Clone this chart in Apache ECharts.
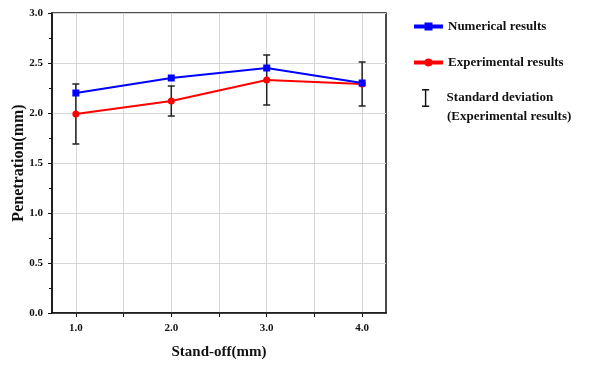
<!DOCTYPE html>
<html>
<head>
<meta charset="utf-8">
<script src="https://cdn.jsdelivr.net/npm/echarts@6/dist/echarts.min.js"></script>
<style>
  html, body { margin: 0; padding: 0; background: #fff; }
  #chart { width: 592px; height: 365px; }
</style>
</head>
<body>
<div id="chart"></div>
<script>
const standOff = [1.0, 2.0, 3.0, 4.0];
const numerical = [2.20, 2.35, 2.45, 2.30];
const experimental = [1.99, 2.12, 2.33, 2.29];
const errLow = [1.69, 1.97, 2.08, 2.07];
const errHigh = [2.29, 2.27, 2.58, 2.51];
const xTickLabels = [1, 2, 3, 4];

const font = 'Liberation Serif';
const legendText = { fontFamily: font, fontWeight: 'bold', fontSize: 13, color: '#111' };

const chart = echarts.init(document.getElementById('chart'));

const errData = standOff.map((x, i) => [x, errLow[i], errHigh[i]]);

chart.setOption({
  animation: false,
  backgroundColor: '#fff',
  textStyle: { fontFamily: font },
  grid: {
    left: 52, right: 206, top: 13, bottom: 52,
    outerBoundsMode: 'none',
    containLabel: false,
    show: true, borderColor: '#111', borderWidth: 1.5
  },
  legend: [
    {
      orient: 'vertical',
      left: 407,
      top: 15,
      itemWidth: 29,
      itemHeight: 10,
      itemGap: 23,
      textStyle: legendText,
      data: [
        { name: 'Numerical results', lineStyle: { width: 4 } },
        { name: 'Experimental results', lineStyle: { width: 4 } }
      ]
    },
    {
      orient: 'vertical',
      left: 417,
      top: 84,
      itemWidth: 32,
      itemHeight: 18,
      textStyle: legendText,
      data: [
        { name: 'Standard deviation',
          icon: 'path://M0,0H8V1.6H4.8V18.4H8V20H0V18.4H3.2V1.6H0Z',
          itemStyle: { color: '#111' } }
      ]
    }
  ],
  graphic: [
    {
      type: 'text',
      left: 447,
      top: 110,
      style: {
        text: '(Experimental results)', fill: '#111',
        fontFamily: font, fontWeight: 'bold', fontSize: 13
      }
    }
  ],
  xAxis: {
    type: 'value',
    min: 0.75,
    max: 4.25,
    name: 'Stand-off(mm)',
    nameLocation: 'middle',
    nameGap: 32,
    nameTextStyle: { fontFamily: font, fontWeight: 'bold', fontSize: 15, color: '#111' },
    axisLine: { lineStyle: { color: '#111', width: 1.5 } },
    axisTick: { show: true, length: 4, customValues: [1, 1.5, 2, 2.5, 3, 3.5, 4], lineStyle: { color: '#111' } },
    axisLabel: {
      customValues: xTickLabels,
      fontFamily: font, fontWeight: 'bold', fontSize: 11, color: '#111', margin: 10,
      formatter: v => v.toFixed(1)
    },
    splitLine: { show: true, lineStyle: { color: '#d6d6d6' } }
  },
  yAxis: {
    type: 'value',
    min: 0,
    max: 3,
    interval: 0.5,
    name: 'Penetration(mm)',
    nameLocation: 'middle',
    nameMoveOverlap: false,
    nameGap: 25,
    nameTextStyle: { fontFamily: font, fontWeight: 'bold', fontSize: 16, color: '#111' },
    axisLine: { show: true, lineStyle: { color: '#111', width: 1.5 } },
    axisTick: { show: true, length: 4, lineStyle: { color: '#111' } },
    minorTick: { show: true, splitNumber: 2, length: 3, lineStyle: { color: '#111' } },
    axisLabel: {
      fontFamily: font, fontWeight: 'bold', fontSize: 11, color: '#111', margin: 9,
      formatter: v => v.toFixed(1)
    },
    splitLine: { show: true, lineStyle: { color: '#d6d6d6' } }
  },
  series: [
    {
      name: 'Standard deviation',
      type: 'custom',
      z: 1,
      itemStyle: { color: '#111' },
      data: errData,
      renderItem: (params, api) => {
        const x = api.value(0);
        const lo = api.coord([x, api.value(1)]);
        const hi = api.coord([x, api.value(2)]);
        const w = 3.5;
        const style = { stroke: '#222', lineWidth: 1.5 };
        return {
          type: 'group',
          children: [
            { type: 'line', shape: { x1: lo[0], y1: lo[1], x2: hi[0], y2: hi[1] }, style },
            { type: 'line', shape: { x1: lo[0] - w, y1: lo[1], x2: lo[0] + w, y2: lo[1] }, style },
            { type: 'line', shape: { x1: hi[0] - w, y1: hi[1], x2: hi[0] + w, y2: hi[1] }, style }
          ]
        };
      }
    },
    {
      name: 'Experimental results',
      type: 'line',
      z: 2,
      data: standOff.map((x, i) => [x, experimental[i]]),
      symbol: 'circle',
      symbolSize: 7,
      itemStyle: { color: '#ff0000' },
      lineStyle: { color: '#ff0000', width: 2.2 }
    },
    {
      name: 'Numerical results',
      type: 'line',
      z: 3,
      data: standOff.map((x, i) => [x, numerical[i]]),
      symbol: 'rect',
      symbolSize: 7,
      itemStyle: { color: '#0000ff' },
      lineStyle: { color: '#0000ff', width: 2.2 }
    }
  ]
});
</script>
</body>
</html>
